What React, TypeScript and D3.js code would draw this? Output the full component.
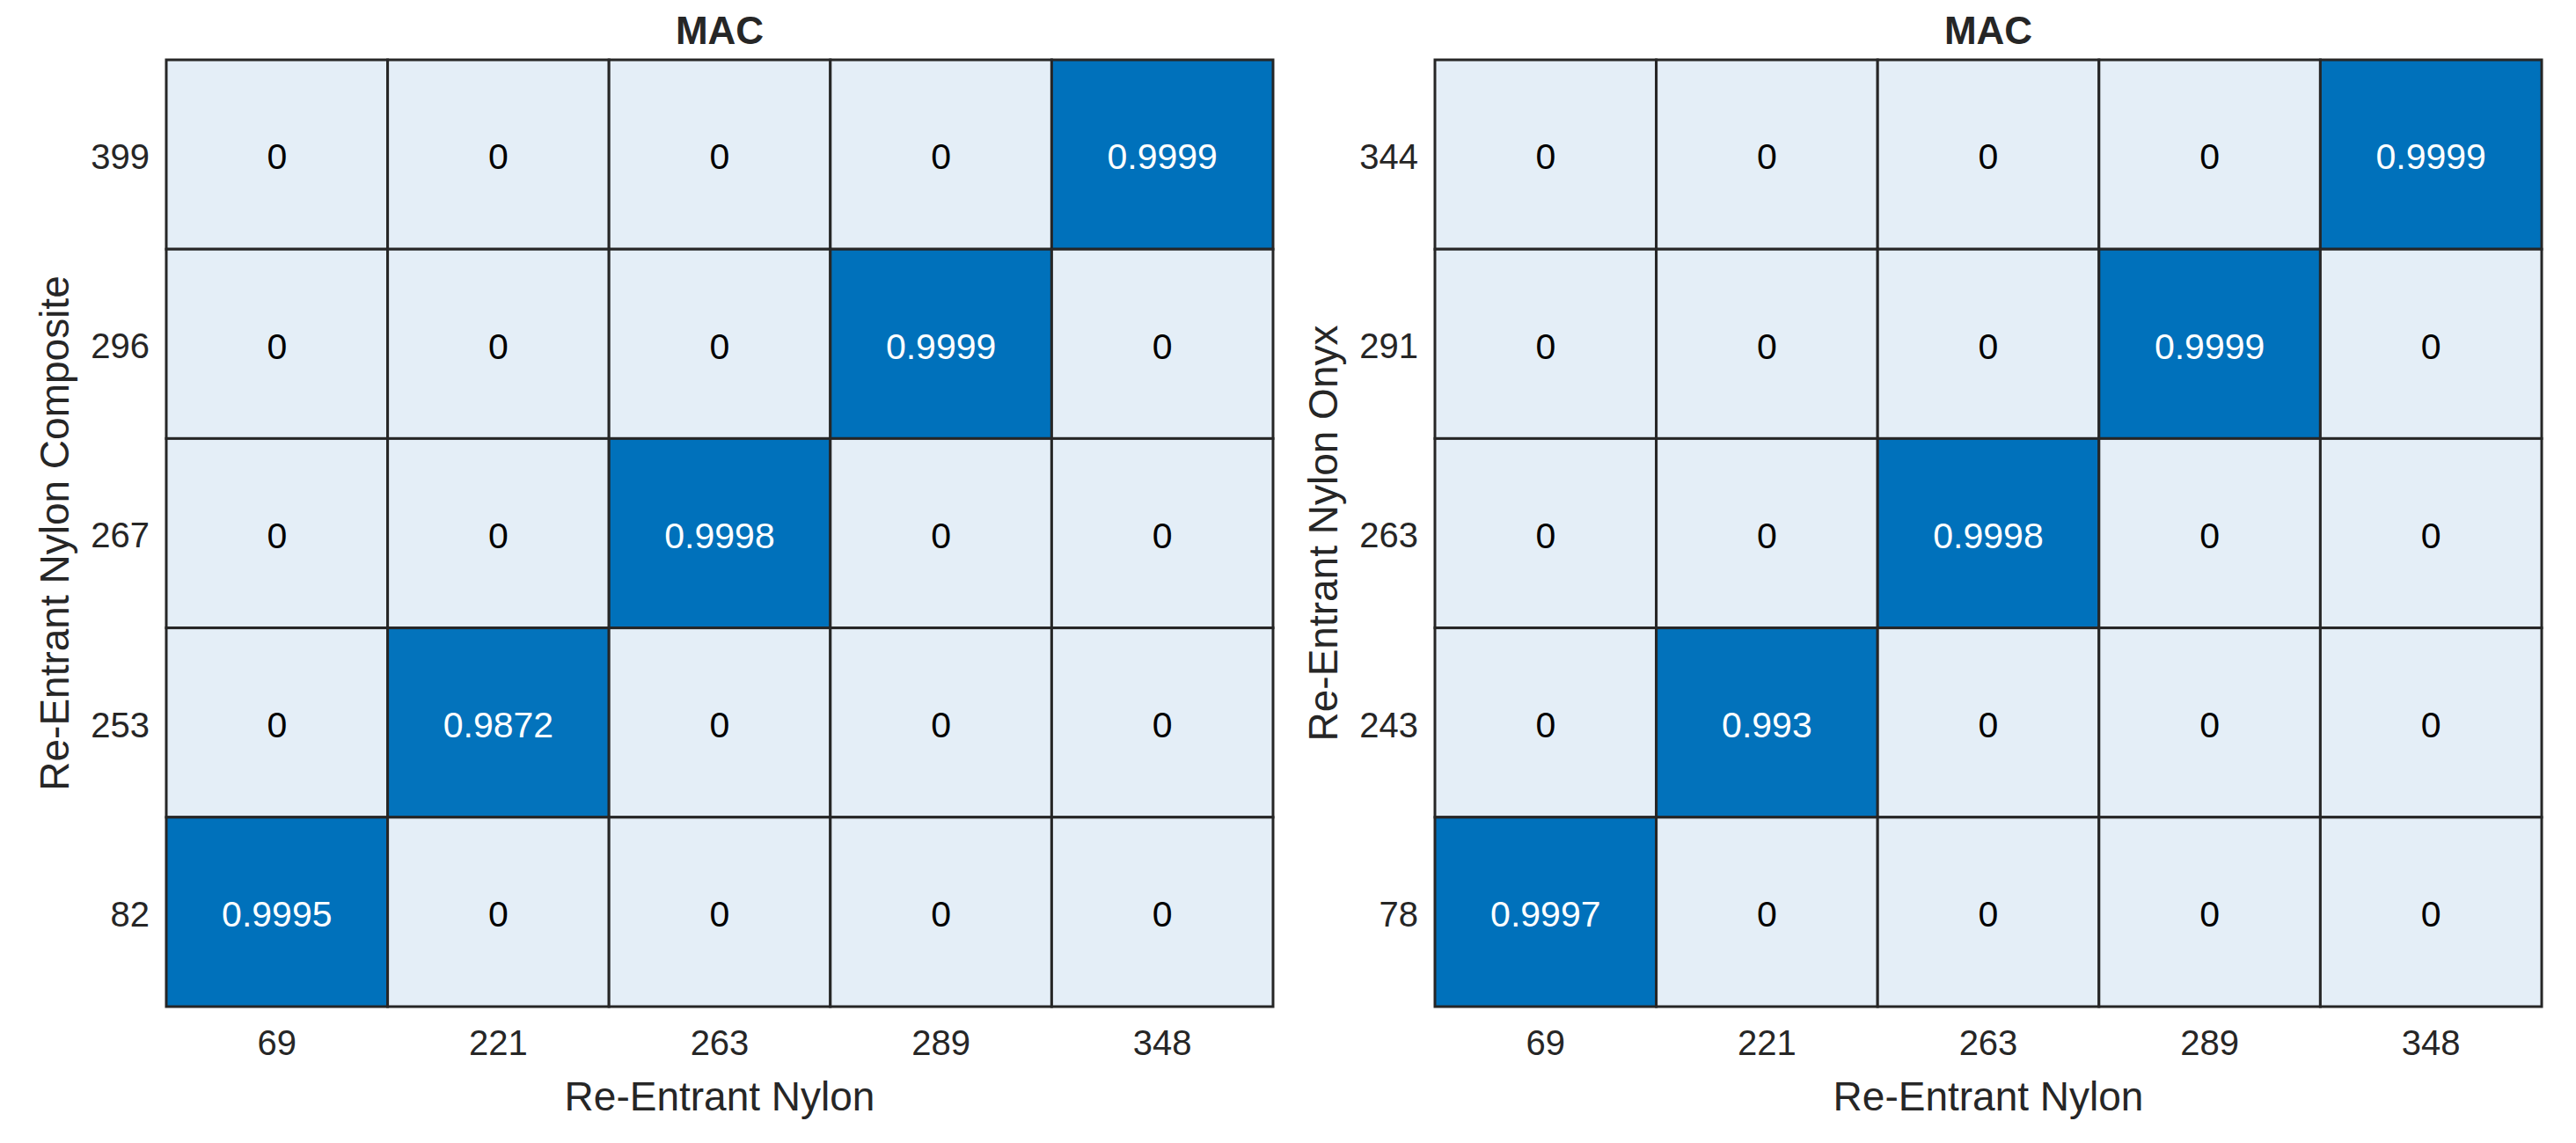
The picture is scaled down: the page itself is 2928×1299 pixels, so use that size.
import React from "react";
import * as d3 from "d3";

// MAC matrices, rows listed top to bottom as shown
const xLabels = ["69", "221", "263", "289", "348"];
const yLabelsComposite = ["399", "296", "267", "253", "82"];
const yLabelsOnyx = ["344", "291", "263", "243", "78"];

const macComposite = [
  [0, 0, 0, 0, 0.9999],
  [0, 0, 0, 0.9999, 0],
  [0, 0, 0.9998, 0, 0],
  [0, 0.9872, 0, 0, 0],
  [0.9995, 0, 0, 0, 0],
];
const macOnyx = [
  [0, 0, 0, 0, 0.9999],
  [0, 0, 0, 0.9999, 0],
  [0, 0, 0.9998, 0, 0],
  [0, 0.993, 0, 0, 0],
  [0.9997, 0, 0, 0, 0],
];

const W = 2928, H = 1299;
const FONT = "'Liberation Sans', Arial, Helvetica, sans-serif";
const INK = "#262626";

interface PanelProps {
  x0: number;
  title: string;
  xTitle: string;
  yTitle: string;
  rows: string[];
  values: number[][];
}

function Heatmap({ x0, title, xTitle, yTitle, rows, values }: PanelProps) {
  const top = 68, bottom = 1144, w = 1258;
  const x = d3.scaleBand<string>().domain(xLabels).range([x0, x0 + w]);
  const y = d3.scaleBand<string>().domain(rows).range([top, bottom]);
  const flat = values.flat();
  const color = d3.scaleLinear<string>()
    .domain([d3.min(flat)!, d3.max(flat)!])
    .range(["#e4eef7", "#0071bb"]);
  const cx = x0 + w / 2;

  return (
    <g fontFamily={FONT}>
      {rows.map((r, i) =>
        xLabels.map((c, j) => {
          const v = values[i][j];
          return (
            <g key={`${r}-${c}`}>
              <rect x={x(c)} y={y(r)} width={x.bandwidth()} height={y.bandwidth()}
                fill={color(v)} stroke={INK} strokeWidth={3} />
              <text x={x(c)! + x.bandwidth() / 2} y={y(r)! + y.bandwidth() / 2 + 2}
                dy="0.36em" textAnchor="middle" fontSize={41}
                fill={v > 0.5 ? "#ffffff" : "#000000"}>
                {String(v)}
              </text>
            </g>
          );
        })
      )}
      {/* ticks */}
      {rows.map(r => (
        <text key={r} x={x0 - 19} y={y(r)! + y.bandwidth() / 2 + 2} dy="0.36em"
          textAnchor="end" fontSize={40} fill={INK}>{r}</text>
      ))}
      {xLabels.map(c => (
        <text key={c} x={x(c)! + x.bandwidth() / 2} y={1199}
          textAnchor="middle" fontSize={40} fill={INK}>{c}</text>
      ))}
      <text x={cx} y={50} textAnchor="middle" fontSize={44} fontWeight="bold" fill={INK}>{title}</text>
      <text x={cx} y={1262} textAnchor="middle" fontSize={46} fill={INK}>{xTitle}</text>
      <text transform={`translate(${x0 - 128},${(top + bottom) / 2}) rotate(-90)`}
        dy="0.36em" textAnchor="middle" fontSize={46} fill={INK}>{yTitle}</text>
    </g>
  );
}

export default function App() {
  return (
    <>
      <style>{"body{margin:0;background:#fff}"}</style>
      <svg width={W} height={H} viewBox={`0 0 ${W} ${H}`} style={{ display: "block" }}>
        <rect width={W} height={H} fill="#ffffff" />
        <Heatmap x0={189} title="MAC" xTitle="Re-Entrant Nylon" yTitle="Re-Entrant Nylon Composite"
          rows={yLabelsComposite} values={macComposite} />
        <Heatmap x0={1631} title="MAC" xTitle="Re-Entrant Nylon" yTitle="Re-Entrant Nylon Onyx"
          rows={yLabelsOnyx} values={macOnyx} />
      </svg>
    </>
  );
}
